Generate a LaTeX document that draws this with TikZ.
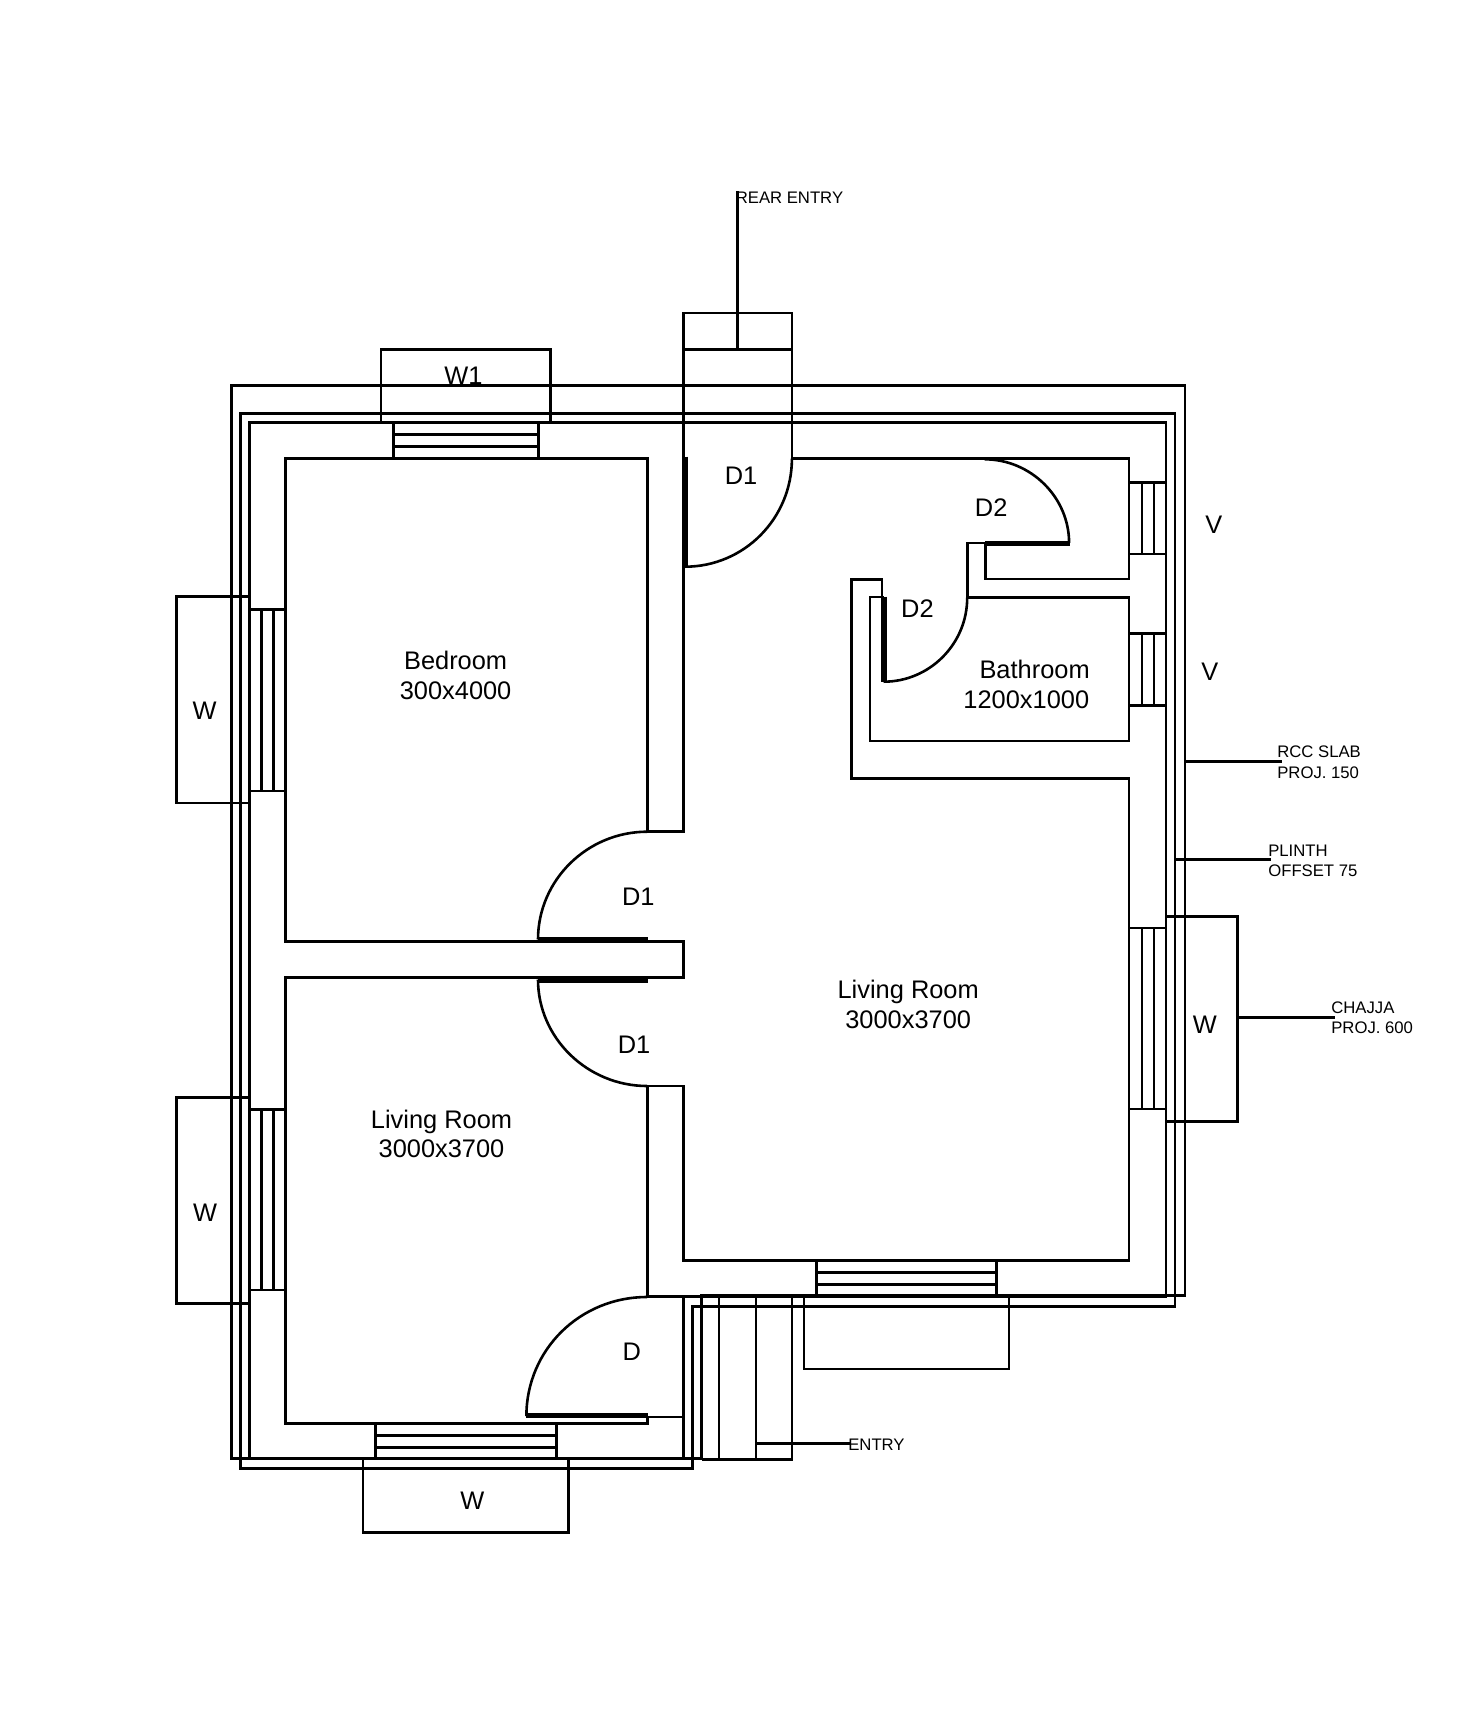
\documentclass[tikz,border=0pt]{standalone}
\usepackage{fontspec}
\setmainfont{Liberation Sans}
\usepackage{tikz}
\usetikzlibrary{calc,positioning}
\tikzset{
  wall_line/.style = {draw=black, line width=2.6pt, line join=miter},
  leaf_line/.style = {draw=black, line width=5.5pt},
  room_lbl/.style = {align=center, inner sep=0pt, text=black, font=\fontsize{25.4}{29.6}\selectfont},
  note_lbl/.style = {align=left, anchor=west, inner sep=0pt, text=black, font=\fontsize{16.7}{20.5}\selectfont}
}

\begin{document}
\begin{tikzpicture}[x=1pt,y=-1pt]
	\path[use as bounding box] (0,0) rectangle (1466,1724);
	\begin{scope}[every path/.style={wall_line}]
	\draw (231.2,385.4) -- (1184.8,385.4) -- (1184.8,1295.5) -- (701.5,1295.5) -- (701.5,1458.5) -- (231.2,1458.5) -- cycle;
	\draw (240.4,413.7) -- (1175,413.7) -- (1175,1306.7) -- (692.5,1306.7) -- (692.5,1468.3) -- (240.4,1468.3) -- cycle;
	\draw (249.4,422.7) -- (1166,422.7) -- (1166,1296.5) -- (683.2,1296.5) -- (683.2,1458.5) -- (249.4,1458.5) -- cycle;
	\draw (647.2,831.7) -- (647.2,458.7) -- (285.3,458.7) -- (285.3,941.3) -- (683.2,941.3) -- (683.2,977.7) -- (285.3,977.7) -- (285.3,1423.7) -- (647.7,1423.7) -- (647.7,1416);
	\draw (647.2,831.7) -- (683.2,831.7) -- (683.2,313) -- (791.9,313) -- (791.9,458.7) -- (1128.8,458.7) -- (1128.8,579) -- (985.2,579) -- (985.2,543) -- (967.2,543) -- (967.2,597.7) -- (1128.8,597.7) -- (1128.8,741) -- (870,741) -- (870,597) -- (883.6,597);
	\draw (647.2,1296.5) -- (647.2,1086) -- (683.2,1086) -- (683.2,1260.3) -- (1128.8,1260.3) -- (1128.8,778.3) -- (851.7,778.3) -- (851.7,579.3) -- (882,579.3) -- (882,597);
	\draw (647.2,1296.5) -- (683.2,1296.5);
	\draw (647.7,1417) -- (683.2,1417);
	\draw (683.2,349.3) -- (791.9,349.3);
	\draw (737.2,191) -- (737.2,349.3);

	\draw (791.9,458.7) .. controls (791.9,518.3) and (744.2,566.7) .. (685,566.7);
	\draw (647.2,831.7) .. controls (587.4,831.7) and (538,880) .. (538,939.5);
	\draw (538,979.5) .. controls (538,1038) and (587.4,1086) .. (647.2,1086);
	\draw (647.2,1297) .. controls (579.7,1297) and (526.4,1350) .. (526.4,1416);
	\draw (984.6,459.3) .. controls (1030.6,459.3) and (1069.1,497) .. (1069.1,543);
	\draw (967.2,597.7) .. controls (967.2,644) and (929.6,681.7) .. (883.6,681.7);

	\draw[leaf_line] (685.4,456.7) -- (685.4,566.7);
	\draw[leaf_line] (538,939.3) -- (648,939.3);
	\draw[leaf_line] (538,979.8) -- (648,979.8);
	\draw[leaf_line] (526.4,1415.7) -- (648,1415.7);
	\draw[leaf_line] (985.2,543.3) -- (1070,543.3);
	\draw[leaf_line] (883.8,596.7) -- (883.8,682);

	\foreach \ya/\yb in {609.3/791,1109.3/1290}{
		\draw (249.4,\ya) rectangle (285.3,\yb);
		\draw (261.3,\ya) -- (261.3,\yb) (273.3,\ya) -- (273.3,\yb);
	}
	\foreach \ya/\yb in {482.7/554,633.3/705.7,928/1109}{
		\draw (1128.8,\ya) rectangle (1166,\yb);
		\draw (1141.9,\ya) -- (1141.9,\yb) (1153.8,\ya) -- (1153.8,\yb);
	}
	\draw (393.4,422.7) rectangle (538.3,458.7);
	\draw (393.4,434.3) -- (538.3,434.3) (393.4,446.7) -- (538.3,446.7);
	\draw (375.7,1423.7) rectangle (556.3,1458.7);
	\draw (375.7,1435.3) -- (556.3,1435.3) (375.7,1447.3) -- (556.3,1447.3);
	\draw (816.3,1260.3) rectangle (996.5,1295.5);
	\draw (816.3,1272.3) -- (996.5,1272.3) (816.3,1284.3) -- (996.5,1284.3);

	\draw (381,422) -- (381,349.3) -- (550.2,349.3) -- (550.2,422);
	\draw (249.4,596.7) -- (176.5,596.7) -- (176.5,803) -- (249.4,803);
	\draw (249.4,1097.3) -- (176.5,1097.3) -- (176.5,1303.3) -- (249.4,1303.3);
	\draw (363,1458.7) -- (363,1532.3) -- (568.3,1532.3) -- (568.3,1458.7);
	\draw (803.8,1296) -- (803.8,1369) -- (1008.8,1369) -- (1008.8,1296);
	\draw (1166,916.7) -- (1237.6,916.7) -- (1237.6,1121.3) -- (1166,1121.3);

	\draw (718.9,1296) -- (718.9,1459.3) (756,1296) -- (756,1459.3);
	\draw (701.5,1459.3) -- (792,1459.3) -- (792,1296);

	\node [note_lbl] (rear_lbl) at (734.5,197.5) {REAR ENTRY};
	\node [note_lbl] (entry_lbl) at (847,1445) {ENTRY};
	\node [note_lbl] (rcc_lbl) at (1276,762) {RCC SLAB\\PROJ. 150};
	\node [note_lbl] (plinth_lbl) at (1267,861) {PLINTH\\OFFSET 75};
	\node [note_lbl] (chajja_lbl) at (1330,1017.8) {CHAJJA\\PROJ. 600};
	\draw (756,1443.5) -- (851.3,1443.5);
	\draw (1184.8,761.3) -- (1281.5,761.3);
	\draw (1175.5,859.3) -- (1271,859.3);
	\draw (1237.6,1017.3) -- (1334.5,1017.3);
	\end{scope}

	\node [room_lbl] (bed_lbl) at (455.6,675.5) {Bedroom\\300x4000};
	\node [room_lbl] (living_s_lbl) at (441.5,1134) {Living Room\\3000x3700};
	\node [room_lbl] (living_e_lbl) at (908.2,1004.5) {Living Room\\3000x3700};
	\node [room_lbl] (bath_lbl) at (1034.6,669.3) {Bathroom};
	\node [room_lbl] (bath_size_lbl) at (1026.3,699.3) {1200x1000};
	\node [room_lbl] (d1_top) at (741,476) {D1};
	\node [room_lbl] (d1_mid) at (638.3,896.7) {D1};
	\node [room_lbl] (d1_low) at (634,1045) {D1};
	\node [room_lbl] (d_main) at (631.7,1351.7) {D};
	\node [room_lbl] (d2_up) at (991.2,508) {D2};
	\node [room_lbl] (d2_low) at (917.4,609) {D2};
	\node [room_lbl] (v_up) at (1213.8,525) {V};
	\node [room_lbl] (v_low) at (1209.8,672) {V};
	\node [room_lbl] (w1_n) at (463.5,375.5) {W1};
	\node [room_lbl] (w_wn) at (204.6,710.6) {W};
	\node [room_lbl] (w_ws) at (205,1213) {W};
	\node [room_lbl] (w_s) at (472.3,1501) {W};
	\node [room_lbl] (w_e) at (1204.8,1024.5) {W};
\end{tikzpicture}
\end{document}
